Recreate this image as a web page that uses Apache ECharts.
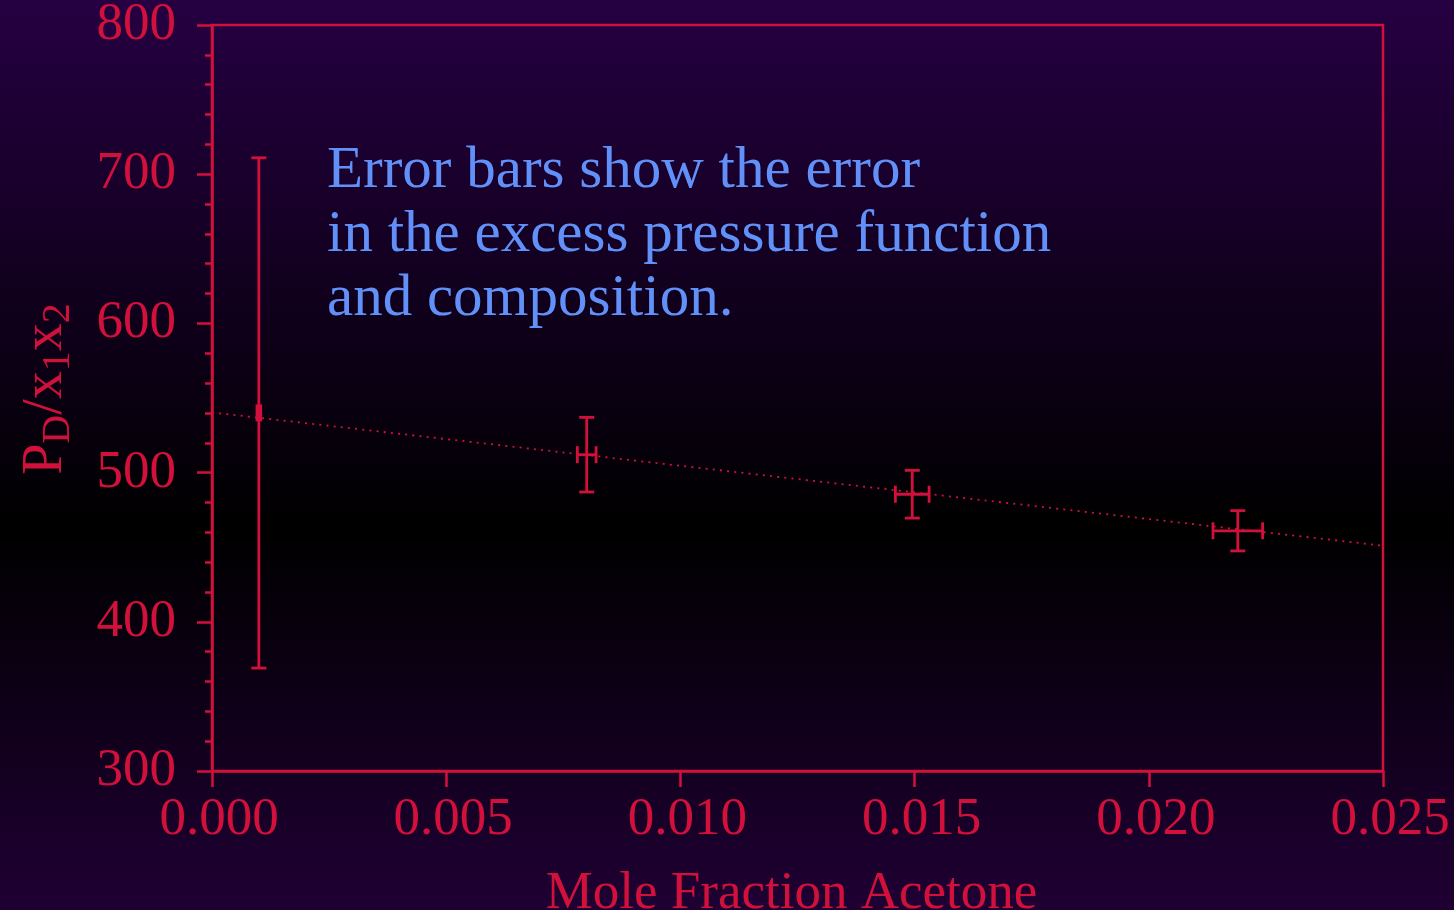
<!DOCTYPE html>
<html>
<head>
<meta charset="utf-8">
<script src="https://cdn.jsdelivr.net/npm/echarts@6/dist/echarts.min.js"></script>
<style>
  html, body { margin: 0; padding: 0; }
  #chart { width: 1454px; height: 910px; }
</style>
</head>
<body>
<div id="chart"></div>
<script>
// 测量数据：组成 x、压力函数 y 及其误差
const xVals = [0.001, 0.008, 0.01495, 0.0219];
const yVals = [540, 512, 485.5, 461];
const xErr = [0.00004, 0.0002, 0.00036, 0.00053];
const yErr = [171, 25, 16, 13.5];

// 拟合直线的两个端点
const fitX = [0, 0.025];
const fitY = [540.3, 451];

const xTicks = { min: 0, max: 0.025, step: 0.005 };
const yTicks = { min: 300, max: 800, step: 100 };

const noteLines = [
    'Error bars show the error',
    'in the excess pressure function',
    'and composition.'
];

const RED = '#d2103c';
const BLUE = '#6090f8';
const FONT = 'Liberation Serif';

const chart = echarts.init(document.getElementById('chart'));

const pointData = xVals.map((x, i) => [x, yVals[i], xErr[i], yErr[i]]);
const fitData = fitX.map((x, i) => [x, fitY[i]]);

function renderErrorBar(params, api) {
    const x = api.value(0), y = api.value(1);
    const dx = api.value(2), dy = api.value(3);
    const top = api.coord([x, y + dy]);
    const bottom = api.coord([x, y - dy]);
    const left = api.coord([x - dx, y]);
    const right = api.coord([x + dx, y]);
    const capW = 7.5, capH = 8.5;
    const style = { stroke: RED, lineWidth: 2.8 };
    const line = (x1, y1, x2, y2) => ({
        type: 'line',
        shape: { x1, y1, x2, y2 },
        style
    });
    return {
        type: 'group',
        children: [
            line(top[0], top[1], bottom[0], bottom[1]),
            line(top[0] - capW, top[1], top[0] + capW, top[1]),
            line(bottom[0] - capW, bottom[1], bottom[0] + capW, bottom[1]),
            line(left[0], left[1], right[0], right[1]),
            line(left[0], left[1] - capH, left[0], left[1] + capH),
            line(right[0], right[1] - capH, right[0], right[1] + capH)
        ]
    };
}

const option = {
    backgroundColor: {
        type: 'linear',
        x: 0, y: 0, x2: 0, y2: 1,
        colorStops: [
            { offset: 0, color: '#260042' },
            { offset: 0.58, color: '#000000' },
            { offset: 1, color: '#1f0033' }
        ]
    },
    animation: false,
    grid: {
        left: 212,
        top: 25,
        right: 71,
        bottom: 139,
        outerBoundsMode: 'none',
        containLabel: false,
        show: true,
        borderColor: RED,
        borderWidth: 2.5,
        backgroundColor: 'transparent'
    },
    graphic: [
        {
            type: 'text',
            left: 327,
            top: 139,
            style: {
                text: noteLines.join('\n'),
                fill: BLUE,
                font: '59px "' + FONT + '"',
                lineHeight: 64
            }
        }
    ],
    xAxis: {
        type: 'value',
        min: xTicks.min,
        max: xTicks.max,
        interval: xTicks.step,
        name: 'Mole Fraction Acetone',
        nameLocation: 'middle',
        nameGap: 97,
        nameTextStyle: { color: RED, fontFamily: FONT, fontSize: 53, padding: [0, 12, 0, 0] },
        axisLine: { lineStyle: { color: RED, width: 2.5 } },
        axisTick: { inside: false, length: 16, lineStyle: { color: RED, width: 2.5 } },
        axisLabel: {
            color: RED,
            fontFamily: FONT,
            fontSize: 53,
            margin: 23,
            padding: [0, 0, 0, 14],
            formatter: v => v.toFixed(3)
        },
        splitLine: { show: false }
    },
    yAxis: {
        type: 'value',
        min: yTicks.min,
        max: yTicks.max,
        interval: yTicks.step,
        name: '{m|P}{s|D}{m|/x}{s|1}{m|x}{s|2}',
        nameLocation: 'middle',
        nameRotate: 90,
        nameGap: 134,
        nameTextStyle: {
            color: RED,
            fontFamily: FONT,
            padding: [0, 0, 0, 18],
            rich: {
                m: { fontSize: 56, fontFamily: FONT, color: RED, lineHeight: 60, verticalAlign: 'top' },
                s: { fontSize: 40, fontFamily: FONT, color: RED, lineHeight: 46, verticalAlign: 'bottom' }
            }
        },
        axisLine: { lineStyle: { color: RED, width: 2.5 } },
        axisTick: { inside: false, length: 15, lineStyle: { color: RED, width: 2.5 } },
        minorTick: { show: true, splitNumber: 5, length: 7, lineStyle: { color: RED, width: 2.5 } },
        axisLabel: {
            color: RED,
            fontFamily: FONT,
            fontSize: 53,
            margin: 36
        },
        splitLine: { show: false },
        minorSplitLine: { show: false }
    },
    series: [
        {
            name: 'fit',
            type: 'line',
            data: fitData,
            symbol: 'none',
            lineStyle: { color: RED, width: 1.8, type: [2, 5.2] },
            z: 2
        },
        {
            name: 'data',
            type: 'custom',
            data: pointData,
            renderItem: renderErrorBar,
            z: 3
        }
    ]
};

chart.setOption(option);
</script>
</body>
</html>
